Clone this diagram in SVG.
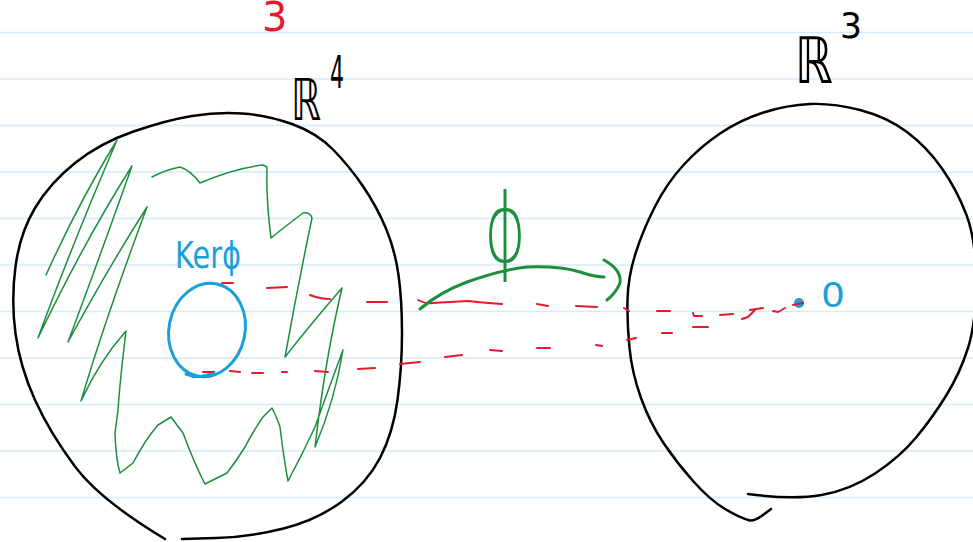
<svg xmlns="http://www.w3.org/2000/svg" width="973" height="542" viewBox="0 0 973 542">
<style>
.rule{stroke:#d5ecf8;stroke-width:1.5;fill:none}
.blk{stroke:#000;stroke-width:2.5;fill:none;stroke-linecap:round;stroke-linejoin:round}
.grn{stroke:#1a8f3c;fill:none;stroke-linecap:round;stroke-linejoin:round}
.red{stroke:#e8182c;stroke-width:2;fill:none;stroke-linecap:round;stroke-linejoin:round}
.blu{stroke:#1a9fdb;stroke-width:3;fill:none;stroke-linecap:round}
text{font-family:"DejaVu Sans","Liberation Sans",sans-serif}
</style>
<rect width="973" height="542" fill="#fff"/>
<g id="paper">
<path class="rule" d="M0,32.5H973M0,79H973M0,125.5H973M0,172H973M0,218.5H973M0,265H973M0,311.5H973M0,358H973M0,404.5H973M0,451H973M0,497.5H973"/>
</g>
<text id="page-num" x="262" y="31" font-size="40" fill="#e8182c">3</text>
<g id="r4">
<path class="blk" d="M165,539 Q100,500 75,466.5 Q50,433 35,400 Q20,367 15.5,333.5 Q11,300 15.5,266.5 Q20,233 35,208 Q50,183 75,163 Q100,143 133.5,131.5 Q167,120 192,116 Q217,112 242,113.5 Q267,115 292,124 Q317,133 333.5,150 Q350,167 363.5,187 Q377,207 386,228.5 Q395,250 398.5,275 Q402,300 402,333.5 Q402,367 397.5,400 Q393,433 380,458 Q367,483 342,501.5 Q317,520 283.5,528.5 Q250,537 216,538 L182,539"/>
<text x="291" y="120" font-size="58"><tspan textLength="30" lengthAdjust="spacingAndGlyphs">ℝ</tspan><tspan dx="9" dy="-32" font-size="44" textLength="14" lengthAdjust="spacingAndGlyphs">4</tspan></text>
<path class="grn" stroke-width="1.5" d="M46,275 Q80,200 117,140 Q70,250 38,338 Q85,240 132,166 Q95,270 68,342 Q110,265 147,207 Q105,320 81,401 Q100,360 126,331 Q120,380 118,410 L115,433 Q116,460 120,473 L133,463 Q145,440 158,425 L171,417 L183,433 Q195,465 205,484 L227,473 Q237,460 245,447 Q255,428 263,417 L272,408 Q278,420 280,427 Q284,460 288,481 Q302,455 315,427 Q330,385 343,350 Q335,400 315,447 Q325,360 342,288 Q310,325 285,357 Q298,285 312,218 Q310,212 303,213 Q287,225 271,238 Q266,200 267,167 L263,165 Q235,168 200,183 Q190,170 180,167 Q165,170 152,177"/>
</g>
<g id="kernel">
<ellipse class="blu" cx="207" cy="330" rx="38" ry="47" transform="rotate(12 207 330)"/>
<path class="blu" stroke-width="2" d="M186,374 Q200,380 214,372"/>
<text x="175" y="268" font-size="38" fill="#1a9fdb" textLength="66" lengthAdjust="spacingAndGlyphs">Kerϕ</text>
</g>
<g id="r3">
<path class="blk" d="M748,494 Q793,500 821.5,495 Q850,490 875,473.5 Q900,457 916.5,437 Q933,417 946.5,395 Q960,373 968,348 Q976,323 976,281.5 Q976,240 966.5,215 Q957,190 942,168.5 Q927,147 907,132 Q887,117 860,110 Q833,103 810,104 Q787,105 763.5,112.5 Q740,120 720,133.5 Q700,147 683.5,165 Q667,183 655,206.5 Q643,230 635.5,253.5 Q628,277 627.5,300 Q627,323 629.5,348 Q632,373 641,398 Q650,423 663.5,443 Q677,463 693.5,481.5 Q710,500 725,509 Q740,518 750,520.5 Q755,521 763,515 L771,509"/>
<text x="795" y="83" font-size="64"><tspan textLength="38" lengthAdjust="spacingAndGlyphs">ℝ</tspan><tspan dx="7" dy="-45" font-size="36" textLength="22" lengthAdjust="spacingAndGlyphs">3</tspan></text>
</g>
<g id="zero">
<circle cx="799" cy="303" r="5" fill="#1a9fdb"/>
<text x="821" y="307" font-size="34" fill="#1a9fdb" textLength="24" lengthAdjust="spacingAndGlyphs">0</text>
</g>
<g id="connectors">
<path class="red" d="M222,283 L233,283 M267,288 L287,287 M310,295 Q320,299 330,299 M367,302 L387,302 M418,300 Q425,304 432,303 Q450,302 468,301 Q485,303 502,304 M537,304 L548,306 M576,306 L597,307 M624,308 L629,311 M657,311 L670,311 M693,313 L694,316 L702,316 M720,315 L733,314 M742,319 L748,317 L755,310 M750,310 L763,308 M773,311 L778,312 L785,308 M793,305 L803,303"/>
<path class="red" d="M203,372 L213,372 M230,371 L240,372 M252,373 L263,373 M282,372 L287,372 M315,371 L328,372 M358,369 L375,368 M400,364 L420,362 M445,357 L462,355 M490,350 L502,351 M537,348 L550,348 M596,345 L602,346 M627,340 L636,338 M662,333 L672,333 M693,327 L708,327"/>
<g id="phi-map">
<path class="grn" stroke-width="3" d="M420,309 Q440,292 467,282 Q500,270 527,267 Q560,266 580,272 Q595,277 604,277"/>
<path class="grn" stroke-width="3" d="M604,260 Q622,270 620,283 Q616,293 607,300"/>
<text x="484" y="262" font-size="96" font-weight="200" fill="#1a8f3c" textLength="42" lengthAdjust="spacingAndGlyphs">ϕ</text>
</g>
</g>
</svg>
